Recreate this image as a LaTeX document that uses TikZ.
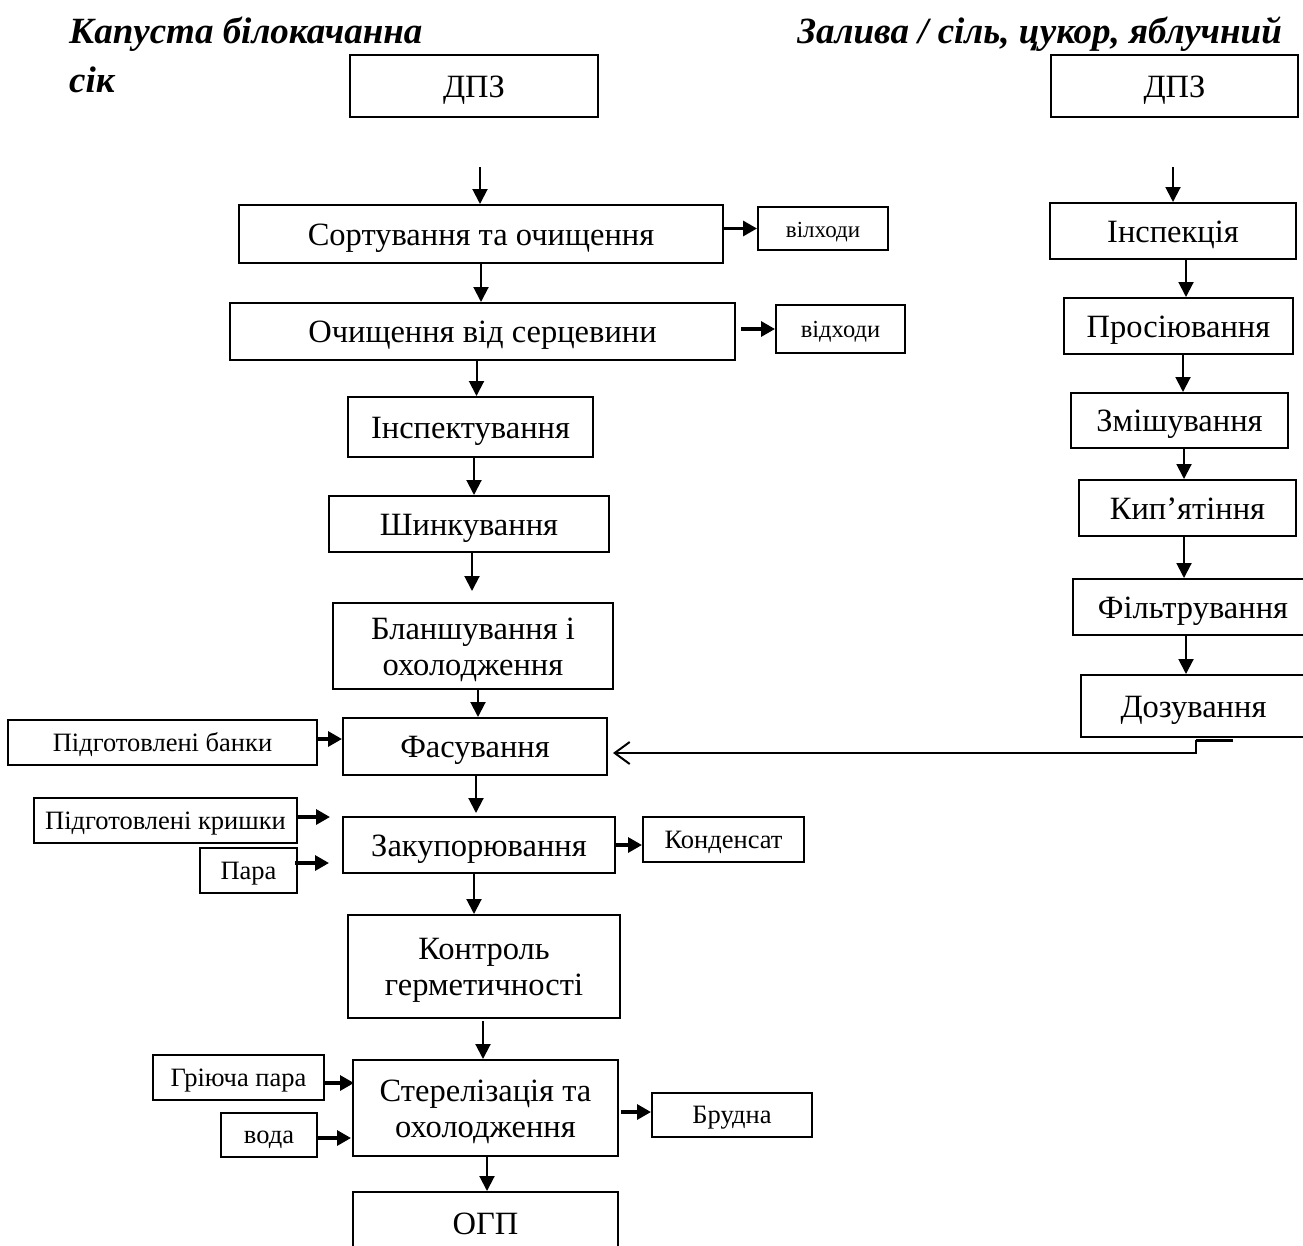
\documentclass[tikz,border=0pt]{standalone}
\usepackage{fontspec}
\setmainfont{Liberation Serif}
\usetikzlibrary{arrows.meta}
\newcommand{\upstrut}{\rule{0pt}{29pt}}
\begin{document}
\begin{tikzpicture}[x=1pt,y=-1pt,
  box/.style={draw,line width=2pt,inner sep=0pt,align=center,text height=26pt,text depth=4pt,font=\fontsize{32.5}{36}\selectfont},
  mbox/.style={draw,line width=2pt,inner sep=0pt,align=center,font=\fontsize{32.5}{36}\selectfont},
  sbox/.style={draw,line width=2pt,inner sep=0pt,align=center,text height=20pt,text depth=3pt,font=\fontsize{26.5}{30}\selectfont},
  arr/.style={line width=2pt,-{Triangle[length=15pt,width=15pt]}},
  harr/.style={line width=3.2pt,-{Triangle[length=14pt,width=15pt]}},
  oarr/.style={line width=2pt,-{Straight Barb[length=15pt,width=22pt,line width=2pt]}},
  ttl/.style={anchor=base west,inner sep=0pt,font=\fontsize{37}{42}\selectfont\bfseries\itshape}]
\useasboundingbox (0,0) rectangle (1303,1245);
\clip (0,0) rectangle (1303,1245);
\fill[white] (0,0) rectangle (1303,1245);

% titles
\node[ttl] (t1) at (69,43) {Капуста білокачанна};
\node[ttl] (t2) at (69,92) {сік};
\node[ttl,anchor=base east] (t3) at (1282,43) {Залива / сіль, цукор, яблучний};

% left column
\node[box,minimum width=248pt,minimum height=62pt] (dpz1) at (474,86) {ДПЗ};
\node[box,minimum width=484pt,minimum height=58pt] (sort) at (481,234) {Сортування та очищення};
\node[sbox,minimum width=130pt,minimum height=43pt,font=\fontsize{23}{26}\selectfont] (vid1) at (823,228.5) {вілходи};
\node[box,minimum width=505pt,minimum height=57pt] (och) at (482.5,331.5) {Очищення від серцевини};
\node[sbox,minimum width=129pt,minimum height=48pt,font=\fontsize{24.5}{28}\selectfont] (vid2) at (840.5,329) {відходи};
\node[box,minimum width=245pt,minimum height=60pt] (insp) at (470.5,427) {Інспектування};
\node[box,minimum width=280pt,minimum height=56pt] (shynk) at (469,524) {Шинкування};
\node[mbox,minimum width=280pt,minimum height=86pt] (blansh) at (473,646) {\upstrut Бланшування і\\охолодження};
\node[box,minimum width=264pt,minimum height=57pt] (fas) at (475,746.5) {Фасування};
\node[sbox,minimum width=309pt,minimum height=45pt] (banky) at (162.5,742.5) {Підготовлені банки};
\node[box,minimum width=272pt,minimum height=56pt] (zak) at (479,845) {Закупорювання};
\node[sbox,minimum width=263pt,minimum height=45pt] (kryshky) at (165.5,820.5) {Підготовлені кришки};
\node[sbox,minimum width=97pt,minimum height=45pt] (para) at (248.5,870.5) {Пара};
\node[sbox,minimum width=161pt,minimum height=45pt] (kond) at (723.5,839.5) {Конденсат};
\node[mbox,minimum width=272pt,minimum height=103pt] (kontr) at (484,966.5) {\upstrut Контроль\\герметичності};
\node[mbox,minimum width=265pt,minimum height=96pt] (ster) at (485.5,1108) {\upstrut Стерелізація та\\охолодження};
\node[sbox,minimum width=171pt,minimum height=45pt] (hrpara) at (238.5,1077.5) {Гріюча пара};
\node[sbox,minimum width=96pt,minimum height=44pt] (voda) at (269,1135) {вода};
\node[sbox,minimum width=160pt,minimum height=44pt] (brud) at (732,1115) {Брудна};
\node[box,minimum width=265pt,minimum height=63pt] (ogp) at (485.5,1223.5) {ОГП};

% right column
\node[box,minimum width=247pt,minimum height=62pt] (dpz2) at (1174.5,86) {ДПЗ};
\node[box,minimum width=246pt,minimum height=56pt] (inspr) at (1173,231) {Інспекція};
\node[box,minimum width=229pt,minimum height=56pt] (pros) at (1178.5,326) {Просіювання};
\node[box,minimum width=217pt,minimum height=55pt] (zmish) at (1179.5,420.5) {Змішування};
\node[box,minimum width=217pt,minimum height=56pt] (kyp) at (1187.5,508) {Кип’ятіння};
\node[box,minimum width=240pt,minimum height=56pt] (filt) at (1193,607) {Фільтрування};
\node[box,minimum width=225pt,minimum height=62pt] (doz) at (1193.5,706) {Дозування};

% left connectors
\coordinate (s1) at (480,167);
\draw[arr] (s1) -- (s1 |- sort.north);
\draw[arr] (sort.south) -- (sort.south |- och.north);
\draw[harr] (sort.east |- vid1.west) -- (vid1.west);
\coordinate (o1) at (741,329);
\draw[harr] (o1) -- (vid2.west);
\draw[arr] ([xshift=-6pt]och.south) -- ([xshift=-6pt]och.south |- insp.north);
\draw[arr] ([xshift=3.5pt]insp.south) -- ([xshift=3.5pt]insp.south |- shynk.north);
\coordinate (b0) at (472,591);
\draw[arr] (b0 |- shynk.south) -- (b0);
\draw[arr] ([xshift=5pt]blansh.south) -- ([xshift=5pt]blansh.south |- fas.north);
\coordinate (bk) at (0,739);
\draw[harr] (banky.east |- bk) -- (fas.west |- bk);
\coordinate (z0) at (476,813);
\draw[arr] (z0 |- fas.south) -- (z0);
\coordinate (k1) at (330,817);
\draw[harr] (kryshky.east |- k1) -- (k1);
\coordinate (p1) at (329,863);
\draw[harr] ([xshift=-3pt]para.east |- p1) -- (p1);
\draw[harr] (zak.east) -- (zak.east -| kond.west);
\draw[arr] ([xshift=-5pt]zak.south) -- ([xshift=-5pt]zak.south |- kontr.north);
\coordinate (c1) at (483,1021);
\draw[arr] (c1) -- (c1 |- ster.north);
\coordinate (h1) at (354,1083);
\draw[harr] (hrpara.east |- h1) -- (h1);
\coordinate (v1) at (351,1138);
\draw[harr] (voda.east |- v1) -- (v1);
\coordinate (r1) at (621,1112);
\draw[harr] (r1) -- (r1 -| brud.west);
\draw[arr] ([xshift=1.5pt]ster.south) -- ([xshift=1.5pt]ster.south |- ogp.north);

% right connectors
\coordinate (s2) at (1173,167);
\draw[arr] (s2) -- (s2 |- inspr.north);
\coordinate (xa) at (1186,0);
\draw[arr] (inspr.south -| xa) -- (pros.north -| xa);
\coordinate (xb) at (1183,0);
\draw[arr] (pros.south -| xb) -- (zmish.north -| xb);
\coordinate (xc) at (1184,0);
\draw[arr] (zmish.south -| xc) -- (kyp.north -| xc);
\draw[arr] (kyp.south -| xc) -- (filt.north -| xc);
\draw[arr] (filt.south -| xa) -- (doz.north -| xa);

% return from dosing to filling
\coordinate (d1) at (1196,740);
\coordinate (d2) at (1233,740);
\coordinate (d3) at (1196,753);
\draw[line width=3pt] (d1) -- (d2);
\draw[oarr] (d1) -- (d3) -- ([xshift=5pt]fas.east |- d3);
\end{tikzpicture}
\end{document}
